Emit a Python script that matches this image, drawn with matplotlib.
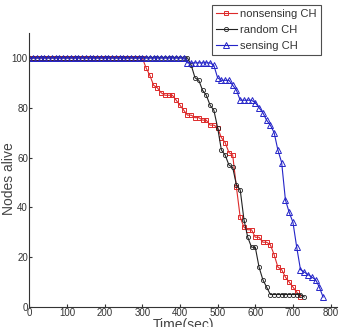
import numpy as np
import matplotlib.pyplot as plt

plt.rcParams['font.family'] = ['Liberation Sans', 'DejaVu Sans']

# nonsensing CH (red), one sample every 10 s
t_red = list(range(0, 730, 10))
y_red = [100] * 31 + [96, 93, 89, 88, 86, 85, 85, 85, 83, 81,
                      79, 77, 77, 76, 76, 75, 75, 73, 73, 72,
                      68, 66, 62, 61, 48, 36, 32, 31, 31, 28,
                      28, 26, 26, 25, 21, 16, 15, 12, 10, 8,
                      6, 4]

# random CH (black)
t_blk = list(range(0, 740, 10))
y_blk = [100] * 43 + [97, 92, 91, 87, 85, 81, 79, 72, 63, 61,
                      57, 56, 49, 47, 35, 28, 24, 24, 16, 11,
                      8, 5, 5, 5, 5, 5, 5, 5, 5, 5, 4]

# sensing CH (blue)
t_blu = list(range(0, 790, 10))
y_blu = [100] * 42 + [98, 98, 98, 98, 98, 98, 98, 97, 92, 91,
                      91, 91, 89, 87, 83, 83, 83, 83, 82, 80,
                      78, 75, 73, 70, 63, 58, 43, 38, 34, 24,
                      15, 14, 13, 12, 11, 8, 4]

xticks = [0, 100, 200, 300, 400, 500, 600, 700, 800]
yticks = [0, 20, 40, 60, 80, 100]

fig = plt.figure(figsize=(3.4, 3.27), dpi=100)
ax = fig.add_axes([0.0862, 0.0612, 0.905, 0.838])

ax.plot(t_red, y_red, color='#dd2a2a', lw=0.8, marker='s', ms=3,
        mfc='none', mec='#dd2a2a', mew=0.7, label='nonsensing CH')
ax.plot(t_blk, y_blk, color='#222222', lw=0.8, marker='o', ms=3,
        mfc='none', mec='#222222', mew=0.6, label='random CH')
ax.plot(t_blu, y_blu, color='#2424c8', lw=0.8, marker='^', ms=4,
        mfc='none', mec='#2424c8', mew=0.7, label='sensing CH')

ax.set_xlim(0, 817)
ax.set_ylim(0, 110)
ax.set_xticks(xticks)
ax.set_yticks(yticks)
ax.tick_params(direction='in', length=2, labelsize=7, pad=1, colors='#333333')
for s in ['top', 'right']:
    ax.spines[s].set_visible(False)
for s in ['left', 'bottom']:
    ax.spines[s].set_color('#333333')
    ax.spines[s].set_linewidth(0.8)

ax.set_xlabel('Time(sec)', fontsize=10, color='#444444', labelpad=0)
ax.set_ylabel('Nodes alive', fontsize=10, color='#444444')
ax.yaxis.set_label_coords(-0.042, 0.47)

leg = fig.legend(loc='upper left', bbox_to_anchor=(212 / 340, 1 - 5 / 327),
                 borderaxespad=0, frameon=True, fancybox=False,
                 edgecolor='#222222', handlelength=1.9, handletextpad=0.3,
                 labelspacing=0.55, borderpad=0.35,
                 prop={'size': 8})
leg.get_frame().set_linewidth(0.8)
for txt in leg.get_texts():
    txt.set_color('#333333')

fig.savefig('out.png', dpi=100)
